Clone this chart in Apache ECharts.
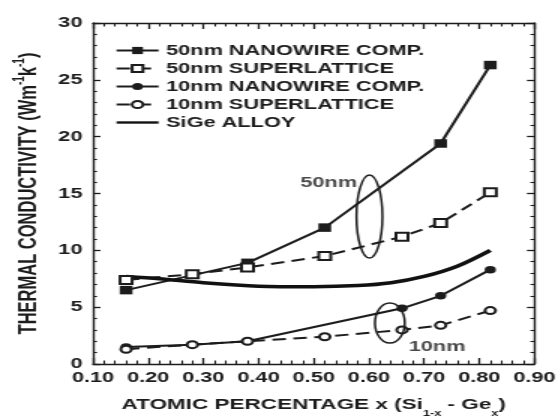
<!DOCTYPE html>
<html>
<head>
<meta charset="utf-8">
<script src="https://cdn.jsdelivr.net/npm/echarts@6/dist/echarts.min.js"></script>
<style>
    html, body { margin: 0; padding: 0; background: #fff; overflow: hidden; }
    /* the original figure is stretched horizontally by ~1.5 */
    #main { width: 373.333px; height: 416px; transform: scaleX(1.5); transform-origin: 0 0; }
</style>
</head>
<body>
<div id="main"></div>
<script>
// 数据
var nano50X = [0.16, 0.38, 0.52, 0.73, 0.82];
var nano50Y = [6.5, 8.9, 12.0, 19.4, 26.3];
var super50X = [0.16, 0.28, 0.38, 0.52, 0.66, 0.73, 0.82];
var super50Y = [7.4, 7.9, 8.5, 9.5, 11.2, 12.4, 15.1];
var nano10X = [0.16, 0.28, 0.38, 0.66, 0.73, 0.82];
var nano10Y = [1.5, 1.7, 2.0, 4.9, 6.0, 8.3];
var super10X = [0.16, 0.28, 0.38, 0.52, 0.66, 0.73, 0.82];
var super10Y = [1.3, 1.7, 2.0, 2.4, 3.0, 3.4, 4.7];
var alloyX = [0.16, 0.22, 0.30, 0.40, 0.50, 0.58, 0.64, 0.70, 0.76, 0.82];
var alloyY = [7.7, 7.5, 7.15, 6.85, 6.8, 6.9, 7.15, 7.7, 8.6, 10.0];

var seriesNames = ['50nm NANOWIRE COMP.', '50nm SUPERLATTICE', '10nm NANOWIRE COMP.', '10nm SUPERLATTICE', 'SiGe ALLOY'];

// 椭圆标注：中心 x, 中心 y, 半宽, 半高
var ellipses = [[0.601, 12.98, 0.0235, 3.65], [0.638, 3.6, 0.027, 1.76]];
// 文字标注
var noteText = ['50nm', '10nm'];
var notePos = [[0.527, 15.9], [0.7235, 1.5]];

var xTicks = ['0.10', '0.20', '0.30', '0.40', '0.50', '0.60', '0.70', '0.80', '0.90'];

var INK = '#1c1c1c';
var FONT = 'Liberation Sans, Arial, sans-serif';

function pairs(xs, ys) {
    var out = [];
    for (var i = 0; i < xs.length; i++) {
        out.push([xs[i], ys[i]]);
    }
    return out;
}

function makeXAxis(pos) {
    return {
        type: 'value',
        position: pos,
        min: 0.1,
        max: 0.9,
        interval: 0.1,
        axisLine: { show: true, onZero: false, lineStyle: { color: INK, width: 1.4 } },
        axisTick: { show: true, inside: true, length: 6, lineStyle: { color: INK, width: 1.3 } },
        minorTick: { show: true, splitNumber: 5, length: 3.5, lineStyle: { color: INK, width: 1.1 } },
        splitLine: { show: false },
        axisLabel: {
            show: pos == 'bottom',
            margin: 6,
            color: INK,
            fontFamily: FONT,
            fontWeight: 'bold',
            fontSize: 14.5,
            formatter: function (v) {
                return xTicks[Math.round((v - 0.1) * 10)];
            }
        }
    };
}

function makeYAxis(pos) {
    return {
        type: 'value',
        position: pos,
        min: 0,
        max: 30,
        interval: 5,
        axisLine: { show: true, onZero: false, lineStyle: { color: INK, width: 1.4 } },
        axisTick: { show: true, inside: true, length: 5, lineStyle: { color: INK, width: 1.3 } },
        minorTick: { show: true, splitNumber: 5, length: 2.7, lineStyle: { color: INK, width: 1.1 } },
        splitLine: { show: false },
        axisLabel: {
            show: pos == 'left',
            margin: 7,
            color: INK,
            fontFamily: FONT,
            fontWeight: 'bold',
            fontSize: 14.5
        }
    };
}

var xBottom = makeXAxis('bottom');
xBottom.name = '{t|ATOMIC PERCENTAGE x (Si}{s|1-x}{t| - Ge}{s|x}{t|)}';
xBottom.nameLocation = 'middle';
xBottom.nameGap = 33;
xBottom.nameTextStyle = {
    rich: {
        t: { fontSize: 15, fontWeight: 'bold', fontFamily: FONT, color: INK, lineHeight: 17, verticalAlign: 'top' },
        s: { fontSize: 8.5, fontWeight: 'bold', fontFamily: FONT, color: INK, lineHeight: 9, padding: [12, 0, 0, 0], verticalAlign: 'top' }
    }
};

var yLeft = makeYAxis('left');
yLeft.name = '{t|THERMAL CONDUCTIVITY (Wm}{s|-1}{t|k}{s|-1}{t|)}';
yLeft.nameLocation = 'middle';
yLeft.nameGap = 24;
yLeft.nameTextStyle = {
    rich: {
        t: { fontSize: 16.5, fontWeight: 'bold', fontFamily: FONT, color: INK, lineHeight: 18, padding: [3, 0, 0, 0], verticalAlign: 'top' },
        s: { fontSize: 10, fontWeight: 'bold', fontFamily: FONT, color: INK, lineHeight: 11, verticalAlign: 'top' }
    }
};

var chart = echarts.init(document.getElementById('main'));
chart.setOption({
    backgroundColor: '#fff',
    animation: false,
    grid: {
        left: 62, right: 16.7, top: 23, bottom: 52,
        outerBoundsMode: 'none'
    },
    legend: {
        orient: 'vertical',
        left: 76.7,
        top: 43,
        padding: 0,
        itemWidth: 28,
        itemHeight: 9,
        itemGap: 3,
        data: [
            { name: seriesNames[0] },
            { name: seriesNames[1] },
            { name: seriesNames[2] },
            { name: seriesNames[3] },
            { name: seriesNames[4], icon: 'path://M0,0H40V3.4H0Z' }
        ],
        textStyle: { fontSize: 14.5, fontWeight: 'bold', fontFamily: FONT, color: INK }
    },
    xAxis: [xBottom, makeXAxis('top')],
    yAxis: [yLeft, makeYAxis('right')],
    series: [
        {
            name: seriesNames[0],
            type: 'line',
            data: pairs(nano50X, nano50Y),
            symbol: 'rect',
            symbolSize: 8.5,
            lineStyle: { color: INK, width: 2 },
            itemStyle: { color: INK }
        },
        {
            name: seriesNames[1],
            type: 'line',
            data: pairs(super50X, super50Y),
            symbol: 'emptyRect',
            symbolSize: 8,
            lineStyle: { color: INK, width: 2, type: [9, 5] },
            itemStyle: { color: INK, borderWidth: 1.3 }
        },
        {
            name: seriesNames[2],
            type: 'line',
            data: pairs(nano10X, nano10Y),
            symbol: 'circle',
            symbolSize: 7.5,
            lineStyle: { color: INK, width: 2 },
            itemStyle: { color: INK }
        },
        {
            name: seriesNames[3],
            type: 'line',
            data: pairs(super10X, super10Y),
            symbol: 'emptyCircle',
            symbolSize: 7,
            lineStyle: { color: INK, width: 2, type: [9, 5] },
            itemStyle: { color: INK, borderWidth: 1.3 }
        },
        {
            name: seriesNames[4],
            type: 'line',
            data: pairs(alloyX, alloyY),
            symbol: 'none',
            smooth: 0.3,
            lineStyle: { color: '#111', width: 3.5 },
            itemStyle: { color: '#111' }
        },
        {
            // 椭圆标注
            type: 'custom',
            data: ellipses,
            z: 5,
            renderItem: function (params, api) {
                var c = api.coord([api.value(0), api.value(1)]);
                var sz = api.size([api.value(2), api.value(3)]);
                return {
                    type: 'ellipse',
                    shape: { cx: c[0], cy: c[1], rx: sz[0], ry: sz[1] },
                    style: { fill: 'none', stroke: INK, lineWidth: 1.5 }
                };
            }
        },
        {
            // 文字标注
            type: 'scatter',
            data: notePos,
            symbolSize: 0,
            silent: true,
            label: {
                show: true,
                position: 'inside',
                color: INK,
                fontFamily: FONT,
                fontWeight: 'bold',
                fontSize: 14.5,
                formatter: function (p) { return noteText[p.dataIndex]; }
            }
        }
    ]
});
</script>
</body>
</html>
